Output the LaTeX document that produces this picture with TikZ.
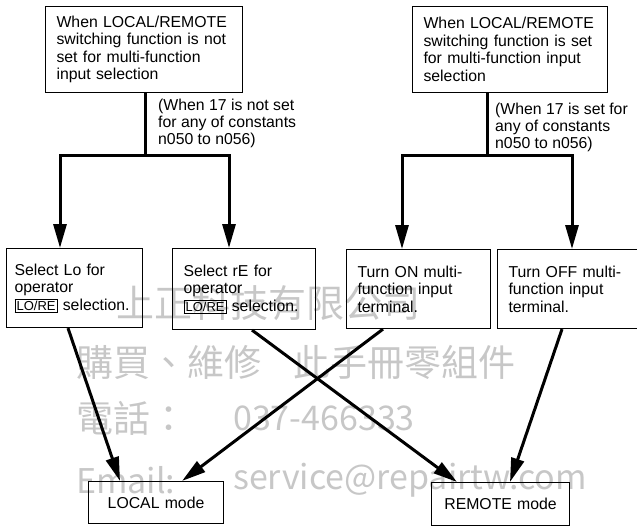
\documentclass[tikz,border=0pt]{standalone}
\usepackage{fontspec}
\newfontfamily\blockfont{Liberation Sans}
\newfontfamily\markfont{Noto Sans CJK TC}
\usetikzlibrary{arrows.meta,positioning}
\newcommand\keylabel[1]{{\setlength\fboxsep{1.2pt}\setlength\fboxrule{0.8pt}\fbox{\fontsize{13}{13}\selectfont #1}}}

\begin{document}
\begin{tikzpicture}[x=1pt, y=-1pt, >={Triangle[length=24pt,width=13pt]},
  block/.style={draw, line width=1.1pt, anchor=north west, align=left, inner xsep=11pt, inner ysep=0pt,
    font=\blockfont\fontsize{15.8}{17.5}\selectfont},
  note/.style={anchor=north west, align=left, inner sep=0pt, font=\blockfont\fontsize{15.8}{16.8}\selectfont},
  flow/.style={->, line width=3pt},
  bus/.style={line width=3pt, line cap=rect},
  wmark/.style={anchor=west, inner sep=0pt, text=black!22, font=\markfont\fontsize{37}{37}\selectfont},
  wlatin/.style={wmark, font=\markfont\fontsize{34}{34}\selectfont}]
\useasboundingbox (0,0) rectangle (637,525);
\clip (0,0) rectangle (637,525);

% watermark
\node[wmark, font=\markfont\fontsize{38}{38}\selectfont] (wm1) at (116,303) {上正科技有限公司};
\node[wmark] (wm2a) at (76,362) {購買、維修};
\node[wmark] (wm2b) at (293,362) {此手冊零組件};
\node[wmark] (wm3a) at (76,418) {電話：};
\node[wlatin] (wm3b) at (233,418) {037-466333};
\node[wlatin] (wm4a) at (76,480) {Email:};
\node[wlatin] (wm4b) at (233,480) {service@repairtw.com};

% conditions
\node[block, text width=175pt, minimum height=86pt] (lcond) at (45,6)
  {When LOCAL/REMOTE\\switching function is not\\set for multi-function\\input selection};
\node[block, text width=173pt, minimum height=86pt] (rcond) at (412,6)
  {When LOCAL/REMOTE\\switching function is set\\for multi-function input\\selection};
\node[note] (lnote) at (158,99) {(When 17 is not set\\for any of constants\\n050 to n056)};
\node[note] (rnote) at (495,103) {(When 17 is set for\\any of constants\\n050 to n056)};

% settings
\node[block, inner xsep=8pt, text width=120pt, minimum height=79pt] (lo) at (6,248)
  {Select Lo for\\operator\\\keylabel{LO/RE} selection.};
\node[block, text width=121pt, minimum height=81pt] (re) at (172,248)
  {Select rE for\\operator\\\keylabel{LO/RE} selection.};
\node[block, text width=122pt, minimum height=79pt] (on) at (346,249)
  {Turn ON multi-\\function input\\terminal.};
\node[block, text width=124pt, minimum height=79pt] (off) at (497,249)
  {Turn OFF multi-\\function input\\terminal.};

% modes
\node[block, align=center, text width=113pt, minimum height=42pt] (local) at (88,481) {LOCAL mode};
\node[block, align=center, text width=116pt, minimum height=43pt] (remote) at (431,482) {REMOTE mode};

% forks
\coordinate (lfork) at (145,155);
\coordinate (lforkL) at (60,155);
\coordinate (lforkR) at (229,155);
\coordinate (rfork) at (487,155);
\coordinate (rforkL) at (402,155);
\coordinate (rforkR) at (572,155);
\draw[bus] (lfork |- lcond.south) -- (lfork);
\draw[bus] (lforkL) -- (lforkR);
\draw[flow] (lforkL) -- (lforkL |- lo.north);
\draw[flow] (lforkR) -- (lforkR |- re.north);
\draw[bus] (rfork |- rcond.south) -- (rfork);
\draw[bus] (rforkL) -- (rforkR);
\draw[flow] (rforkL) -- (rforkL |- on.north);
\draw[flow] (rforkR) -- (rforkR |- off.north);

% to modes
\draw[flow] ([xshift=62pt]lo.south west) -- ([xshift=32pt]local.north west);
\draw[flow] ([xshift=80pt]re.south west) -- ([xshift=26pt]remote.north west);
\draw[flow] ([xshift=37pt]on.south west) -- ([xshift=94pt]local.north west);
\draw[flow] ([xshift=65pt]off.south west) -- ([xshift=79pt]remote.north west);
\end{tikzpicture}
\end{document}
